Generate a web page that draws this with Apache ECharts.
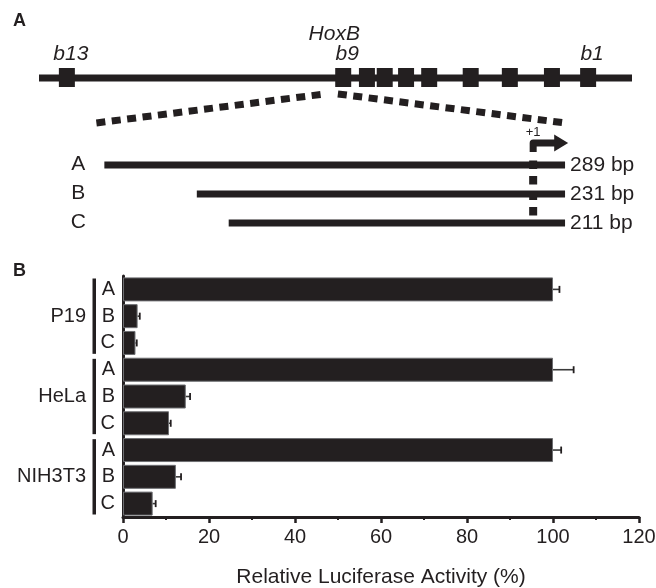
<!DOCTYPE html>
<html><head><meta charset="utf-8">
<script src="https://cdn.jsdelivr.net/npm/echarts@6/dist/echarts.min.js"></script>
<style>html,body{margin:0;padding:0;background:#fff}#c{width:656px;height:588px}</style>
</head><body><div id="c"></div>
<script>
// ---------- Panel B data ----------
const categories = ['A', 'B', 'C', 'A', 'B', 'C', 'A', 'B', 'C'];
const cellLines = ['P19', 'HeLa', 'NIH3T3'];
const activity = [100, 3.4, 2.9, 100, 14.6, 10.7, 100, 12.3, 6.9];
const activityErr = [1.5, 0.5, 0.3, 4.8, 1.0, 0.4, 1.9, 1.2, 0.7];
const xTicks = [0, 20, 40, 60, 80, 100, 120];

// ---------- Panel A data ----------
const geneNames = ['b13', 'b9', 'b8', 'b7', 'b6', 'b5', 'b4', 'b3', 'b2', 'b1'];
const genePos = [4.7, 51.3, 55.3, 58.3, 61.9, 65.8, 72.8, 79.4, 86.5, 92.6];
const labelledGenes = ['b13', 'b9', 'b1'];
const locusRange = [0, 100];
const promoterRegion = [48.2, 50.4];
const fragmentNames = ['A', 'B', 'C'];
const fragmentStart = [-269, -211, -191];
const fragmentEnd = [20, 20, 20];
const fragmentLabels = ['289 bp', '231 bp', '211 bp'];
const tss = 0;

const INK = '#231f20';
const FONT = "'Liberation Sans', Arial, Helvetica, sans-serif";
const ROW = { hox: 0.48, gene: 1.14, locus: 2, zoomTop: 2.55, zoomBottom: 3.55, plusOne: 3.86, arrow: 4.24, frag0: 5 };

const chart = echarts.init(document.getElementById('c'), null, { renderer: 'canvas' });

const option = {
  animation: false,
  backgroundColor: '#ffffff',
  textStyle: { fontFamily: FONT, color: INK },
  grid: [
    { left: 39, right: 24, top: 20, height: 232, outerBoundsMode: 'none', containLabel: false },
    { left: 123, right: 17, top: 276, bottom: 71, outerBoundsMode: 'none', containLabel: false }
  ],
  xAxis: [
    { gridIndex: 0, type: 'value', min: locusRange[0], max: locusRange[1], position: 'bottom', show: false },
    { gridIndex: 0, type: 'value', min: -310, max: 62, position: 'top', show: false },
    {
      gridIndex: 1, type: 'value', min: xTicks[0], max: xTicks[xTicks.length - 1], interval: 20,
      axisLine: { show: true, onZero: false, lineStyle: { color: INK, width: 3 } },
      axisTick: { show: true, length: 6, lineStyle: { color: INK, width: 2.5 } },
      minorTick: { show: true, splitNumber: 2, length: 3, lineStyle: { color: INK, width: 2 } },
      splitLine: { show: false },
      axisLabel: { fontSize: 20, color: INK, margin: 10, fontFamily: FONT },
      name: 'Relative Luciferase Activity (%)', nameLocation: 'middle', nameGap: 50,
      nameTextStyle: { fontSize: 21, color: INK, fontFamily: FONT }
    }
  ],
  yAxis: [
    { gridIndex: 0, type: 'value', min: 0, max: 8, inverse: true, show: false },
    {
      gridIndex: 1, type: 'category', data: categories, inverse: true,
      axisLine: { show: true, lineStyle: { color: INK, width: 3 } },
      axisTick: { show: false },
      axisLabel: { fontSize: 20, color: INK, margin: 8, fontFamily: FONT }
    }
  ],
  graphic: [
    { type: 'text', style: { x: 13, y: 21.5, text: 'A', font: 'bold 18px ' + FONT, fill: INK, verticalAlign: 'middle' } },
    { type: 'text', style: { x: 13, y: 271.5, text: 'B', font: 'bold 18px ' + FONT, fill: INK, verticalAlign: 'middle' } }
  ],
  series: [
    // chromosome line
    {
      type: 'custom', xAxisIndex: 0, yAxisIndex: 0, silent: true,
      data: [[locusRange[0], ROW.locus, locusRange[1]]],
      renderItem: (p, api) => {
        const a = api.coord([api.value(0), ROW.locus]);
        const b = api.coord([api.value(2), ROW.locus]);
        return { type: 'rect', shape: { x: a[0], y: a[1] - 3.5, width: b[0] - a[0], height: 7 }, style: { fill: INK } };
      }
    },
    // genes
    {
      type: 'custom', xAxisIndex: 0, yAxisIndex: 0, silent: true,
      data: genePos.map(g => [g, ROW.locus]),
      renderItem: (p, api) => {
        const c = api.coord([api.value(0), ROW.locus]);
        const name = geneNames[p.dataIndex];
        const children = [{ type: 'rect', shape: { x: c[0] - 8, y: c[1] - 10, width: 16, height: 19 }, style: { fill: INK } }];
        if (labelledGenes.indexOf(name) >= 0) {
          const ly = api.coord([0, ROW.gene])[1];
          children.push({ type: 'text', style: { x: c[0] + 4, y: ly + 1, text: name, align: 'center', verticalAlign: 'middle', font: 'italic 21px ' + FONT, fill: INK } });
        }
        if (name === 'b9') {
          const hy = api.coord([0, ROW.hox])[1];
          children.push({ type: 'text', style: { x: c[0] - 9, y: hy, text: 'HoxB', align: 'center', verticalAlign: 'middle', font: 'italic 21px ' + FONT, fill: INK } });
        }
        return { type: 'group', children };
      }
    },
    // promoter fragments
    {
      type: 'custom', xAxisIndex: 1, yAxisIndex: 0, silent: true,
      data: fragmentStart.map((s, i) => [s, ROW.frag0 + i, fragmentEnd[i]]),
      renderItem: (p, api) => {
        const i = p.dataIndex;
        const a = api.coord([api.value(0), api.value(1)]);
        const b = api.coord([api.value(2), api.value(1)]);
        const lx = api.coord([fragmentStart[0], 0])[0] - 26;
        return {
          type: 'group', children: [
            { type: 'rect', shape: { x: a[0], y: a[1] - 3.5, width: b[0] - a[0], height: 7 }, style: { fill: INK } },
            { type: 'text', style: { x: lx, y: a[1] - 1, text: fragmentNames[i], align: 'center', verticalAlign: 'middle', font: '21px ' + FONT, fill: INK } },
            { type: 'text', style: { x: b[0] + 5, y: a[1], text: fragmentLabels[i], align: 'left', verticalAlign: 'middle', font: '21px ' + FONT, fill: INK } }
          ]
        };
      }
    },
    // transcription start site (+1) marker
    {
      type: 'custom', xAxisIndex: 1, yAxisIndex: 0, silent: true,
      data: [[tss, ROW.arrow]],
      renderItem: (p, api) => {
        const c = api.coord([api.value(0), ROW.arrow]);
        const ty = api.coord([0, ROW.plusOne])[1];
        const yA = api.coord([0, ROW.frag0])[1];
        const yC = api.coord([0, ROW.frag0 + 2])[1];
        return {
          type: 'group', children: [
            { type: 'polyline', shape: { points: [[c[0], c[1] + 9], [c[0], c[1]], [c[0] + 23, c[1]]] }, style: { stroke: INK, lineWidth: 7, fill: null, lineJoin: 'round' } },
            { type: 'polygon', shape: { points: [[c[0] + 21, c[1] - 8.5], [c[0] + 35, c[1]], [c[0] + 21, c[1] + 8.5]] }, style: { fill: INK } },
            { type: 'text', style: { x: c[0], y: ty, text: '+1', align: 'center', verticalAlign: 'middle', font: '13px ' + FONT, fill: INK } },
            { type: 'line', shape: { x1: c[0], y1: yA - 4.5, x2: c[0], y2: yC - 7.5 }, style: { stroke: INK, lineWidth: 8, lineDash: [8.5, 7] } }
          ]
        };
      }
    },
    // bars
    {
      type: 'bar', xAxisIndex: 2, yAxisIndex: 1, data: activity, barWidth: 24,
      itemStyle: { color: INK, borderColor: '#6d6e71', borderWidth: 1 }, silent: true
    },
    // error bars
    {
      type: 'custom', xAxisIndex: 2, yAxisIndex: 1, silent: true, z: 5,
      data: activity.map((v, i) => [v, i, activityErr[i]]),
      encode: { x: 0, y: 1 },
      renderItem: (p, api) => {
        const v = api.value(0), i = api.value(1), e = api.value(2);
        const a = api.coord([v, i]);
        const b = api.coord([v + e, i]);
        return {
          type: 'group', children: [
            { type: 'line', shape: { x1: a[0], y1: a[1], x2: b[0], y2: b[1] }, style: { stroke: '#3a3a3a', lineWidth: 1.6 } },
            { type: 'line', shape: { x1: b[0], y1: b[1] - 3.5, x2: b[0], y2: b[1] + 3.5 }, style: { stroke: INK, lineWidth: 1.8 } }
          ]
        };
      }
    },
    // cell line group brackets and labels
    {
      type: 'custom', xAxisIndex: 2, yAxisIndex: 1, silent: true,
      data: cellLines.map((n, g) => [0, 3 * g + 1]),
      encode: { x: 0, y: 1 },
      renderItem: (p, api) => {
        const c = api.coord([0, api.value(1)]);
        const band = api.size([0, 1])[1];
        return {
          type: 'group', children: [
            { type: 'rect', shape: { x: c[0] - 30.5, y: c[1] - 1.5 * band + 2.5, width: 3.5, height: 3 * band - 5 }, style: { fill: INK } },
            { type: 'text', style: { x: c[0] - 37, y: c[1], text: cellLines[p.dataIndex], align: 'right', verticalAlign: 'middle', font: '20px ' + FONT, fill: INK } }
          ]
        };
      }
    }
  ]
};

chart.setOption(option);

// zoom (dotted) lines linking the locus to the promoter fragments
const lx0 = chart.convertToPixel({ xAxisIndex: 0 }, promoterRegion[0]);
const lx1 = chart.convertToPixel({ xAxisIndex: 0 }, promoterRegion[1]);
const bx0 = chart.convertToPixel({ xAxisIndex: 1 }, fragmentStart[0] - 5);
const bx1 = chart.convertToPixel({ xAxisIndex: 1 }, fragmentEnd[0]);
const yt = chart.convertToPixel({ yAxisIndex: 0 }, ROW.zoomTop);
const yb = chart.convertToPixel({ yAxisIndex: 0 }, ROW.zoomBottom);
chart.setOption({
  graphic: [
    { type: 'text', style: { x: 13, y: 21.5, text: 'A', font: 'bold 18px ' + FONT, fill: INK, verticalAlign: 'middle' } },
    { type: 'text', style: { x: 13, y: 271.5, text: 'B', font: 'bold 18px ' + FONT, fill: INK, verticalAlign: 'middle' } },
    { type: 'line', shape: { x1: bx0, y1: yb, x2: lx0, y2: yt }, style: { stroke: INK, lineWidth: 7, lineDash: [9, 6.5] } },
    { type: 'line', shape: { x1: lx1, y1: yt, x2: bx1, y2: yb }, style: { stroke: INK, lineWidth: 7, lineDash: [9, 6.5] } }
  ]
});
</script>
</body></html>
